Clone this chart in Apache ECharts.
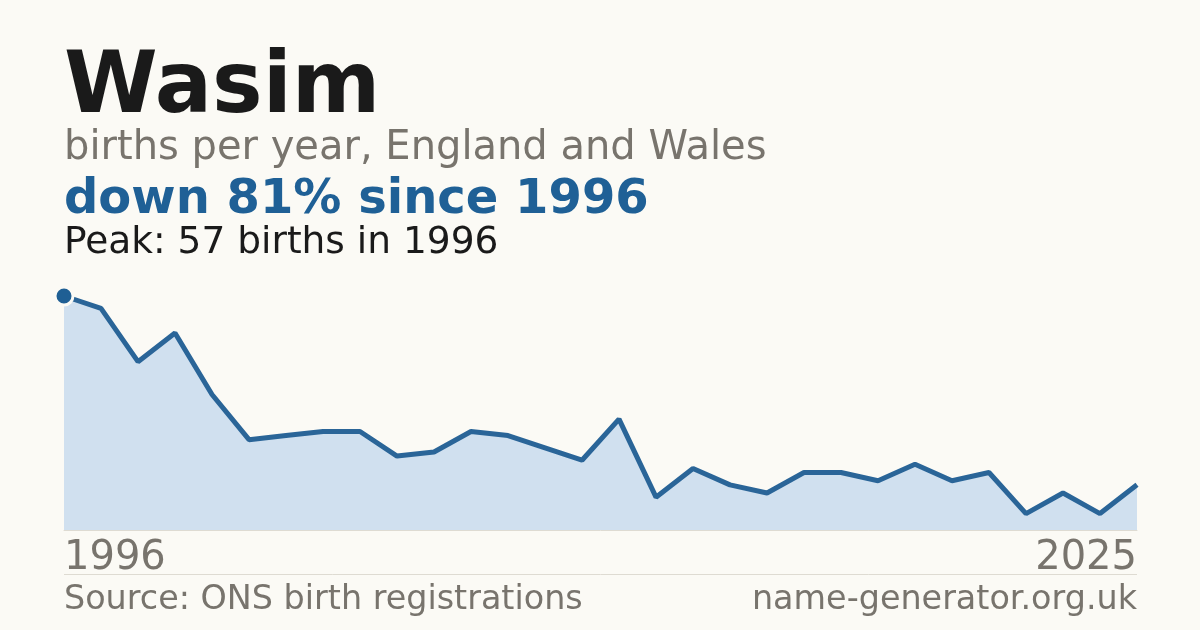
<!DOCTYPE html>
<html>
<head>
<meta charset="utf-8">
<script src="https://cdn.jsdelivr.net/npm/echarts@6/dist/echarts.min.js"></script>
<style>
html,body{margin:0;padding:0;background:#fbfaf5;}
#c{width:1200px;height:630px;}
</style>
</head>
<body>
<div id="c"></div>
<script>
var years = [1996,1997,1998,1999,2000,2001,2002,2003,2004,2005,2006,2007,2008,2009,2010,2011,2012,2013,2014,2015,2016,2017,2018,2019,2020,2021,2022,2023,2024,2025];
var births = [57,54,41,48,33,22,23,24,24,18,19,24,23,20,17,27,8,15,11,9,14,14,12,16,12,14,4,9,4,11];
var titleText = 'Wasim';
var subtitleText = 'births per year, England and Wales';
var changeText = 'down 81% since 1996';
var peakText = 'Peak: 57 births in 1996';
var sourceText = 'Source: ONS birth registrations';
var siteText = 'name-generator.org.uk';

var FONT = '"DejaVu Sans", sans-serif';
var chart = echarts.init(document.getElementById('c'));
var seriesData = births.map(function(v, i){
  if (i === 0) {
    return {value: v, symbol: 'circle', symbolSize: 18,
      itemStyle: {color: '#1f5f94', borderColor: '#fbfaf5', borderWidth: 3}};
  }
  return {value: v, symbol: 'none'};
});
var n = years.length;
chart.setOption({
  backgroundColor: '#fbfaf5',
  animation: false,
  grid: {left: 64, right: 63, top: 296, bottom: 100},
  xAxis: {
    type: 'category', data: years.map(String), boundaryGap: false,
    axisLine: {show: true, lineStyle: {color: '#dedbd2', width: 1}},
    axisTick: {show: false},
    splitLine: {show: false},
    axisLabel: {
      show: true, color: '#78746d', fontSize: 40, fontFamily: FONT, margin: 9,
      interval: function(i){ return i === 0 || i === n - 1; },
      alignMinLabel: 'left', alignMaxLabel: 'right'
    }
  },
  yAxis: {type: 'value', min: 0, max: 57, show: false, splitLine: {show: false}},
  series: [{
    type: 'line', data: seriesData, clip: false,
    lineStyle: {color: '#2a6598', width: 5},
    areaStyle: {color: '#d0e0ef', opacity: 1},
    z: 3
  }],
  graphic: [
    {type: 'text', left: 64, top: 47, style: {text: titleText, font: 'bold 85px ' + FONT, fill: '#1a1a1a'}},
    {type: 'text', left: 64, top: 129, style: {text: subtitleText, font: '40px ' + FONT, fill: '#78746d'}},
    {type: 'text', left: 64, top: 177, style: {text: changeText, font: 'bold 48px ' + FONT, fill: '#1f6096'}},
    {type: 'text', left: 64, top: 224, style: {text: peakText, font: '37.5px ' + FONT, fill: '#1a1a1a'}},
    {type: 'line', shape: {x1: 64, y1: 574.5, x2: 1137, y2: 574.5}, style: {stroke: '#dedbd2', lineWidth: 1}},
    {type: 'text', left: 64, top: 584, style: {text: sourceText, font: '33.4px ' + FONT, fill: '#78746d'}},
    {type: 'text', right: 63, top: 584, style: {text: siteText, font: '33.4px ' + FONT, fill: '#78746d'}}
  ]
});
</script>
</body>
</html>
